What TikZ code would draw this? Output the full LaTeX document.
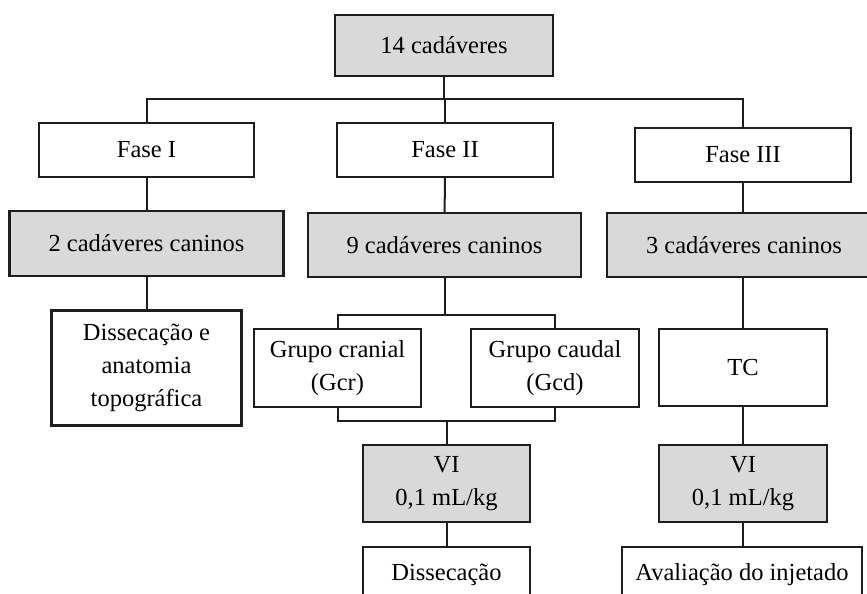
\documentclass[tikz,border=0pt]{standalone}
\usepackage{fontspec}
\setmainfont{Liberation Serif}
\definecolor{boxgrey}{RGB}{217,217,217}
\definecolor{boxline}{RGB}{30,30,30}
\tikzset{
  stagebox/.style = {draw=boxline, line width=2.2pt, fill=white, inner sep=0pt,
                     align=center, font=\fontsize{24.5}{33}\selectfont},
  greybox/.style  = {stagebox, fill=boxgrey},
  link/.style     = {draw=boxline, line width=2pt},
}

\begin{document}
\begin{tikzpicture}[x=1pt, y=-1pt]

  % ── frame (image is cut at the bottom) ──
  \useasboundingbox (0,0) rectangle (867,594);
  \clip (0,0) rectangle (867,594);

  % ──────────────────────────────────────────────
  %  TOP AND PHASES
  % ──────────────────────────────────────────────
  \node[greybox, minimum width=218pt, minimum height=61pt] (total) at (444,45.5) {14 cadáveres};

  \node[stagebox, minimum width=215pt, minimum height=54pt] (faseA) at (146.5,150) {Fase I};
  \node[stagebox, minimum width=216pt, minimum height=54pt] (faseB) at (445,150)   {Fase II};
  \node[stagebox, minimum width=216pt, minimum height=54pt] (faseC) at (743,155)   {Fase III};

  % ══════════════════════════════════════════════
  %  FASE I
  % ══════════════════════════════════════════════
  \node[greybox, minimum width=274pt, minimum height=65pt] (caesA) at (146.5,243.5) {2 cadáveres caninos};
  \node[stagebox, minimum width=190pt, minimum height=115pt] (anat) at (146.5,368)
    {Dissecação e\\anatomia\\topográfica};

  % ══════════════════════════════════════════════
  %  FASE II
  % ══════════════════════════════════════════════
  \node[greybox, minimum width=273pt, minimum height=64pt] (caesB) at (444.5,245) {9 cadáveres caninos};
  \node[stagebox, minimum width=167pt, minimum height=78pt] (gcr) at (337.5,368) {Grupo cranial\\(Gcr)};
  \node[stagebox, minimum width=168pt, minimum height=78pt] (gcd) at (555,368)   {Grupo caudal\\(Gcd)};
  \node[greybox, minimum width=167pt, minimum height=77pt] (viB) at (446.5,483.5) {VI\\0,1 mL/kg};
  \node[stagebox, minimum width=167pt, minimum height=56pt] (dissec) at (446.5,575) {Dissecação};

  % ══════════════════════════════════════════════
  %  FASE III
  % ══════════════════════════════════════════════
  \node[greybox, minimum width=274pt, minimum height=64pt] (caesC) at (744,245) {3 cadáveres caninos};
  \node[stagebox, minimum width=168pt, minimum height=77pt] (tc) at (743,367.5) {TC};
  \node[greybox, minimum width=168pt, minimum height=77pt] (viC) at (743,483.5) {VI\\0,1 mL/kg};
  \node[stagebox, minimum width=240pt, minimum height=56pt] (aval) at (742,575) {Avaliação do injetado};

  % ── junction points ──
  \coordinate (busL) at (146.5,98.5);
  \coordinate (busR) at (743,98.5);
  \coordinate (splitL) at (337.5,315);
  \coordinate (splitR) at (555,315);
  \coordinate (joinL) at (337.5,421);
  \coordinate (joinR) at (555,421);

  % ── connectors ──
  \draw[link] (total.south) -- (total.south |- busL);
  \draw[link] (faseA.north) -- (busL) -- (busR) -- (faseC.north);
  \draw[link] (faseB.north) -- (faseB.north |- busL);

  \draw[link] (faseA) -- (caesA);
  \draw[link] (caesA) -- (anat);

  \draw[link] (faseB) -- (caesB);
  \draw[link] (caesB.south) -- (caesB.south |- splitL);
  \draw[link] (gcr.north) -- (splitL) -- (splitR) -- (gcd.north);
  \draw[link] (gcr.south) -- (joinL) -- (joinR) -- (gcd.south);
  \draw[link] (viB.north |- joinL) -- (viB.north);
  \draw[link] (viB) -- (dissec);

  \draw[link] (faseC) -- (caesC.north -| faseC);
  \draw[link] (caesC.south -| tc) -- (tc);
  \draw[link] (tc) -- (viC);
  \draw[link] (viC) -- (aval.north -| viC);

\end{tikzpicture}
\end{document}
